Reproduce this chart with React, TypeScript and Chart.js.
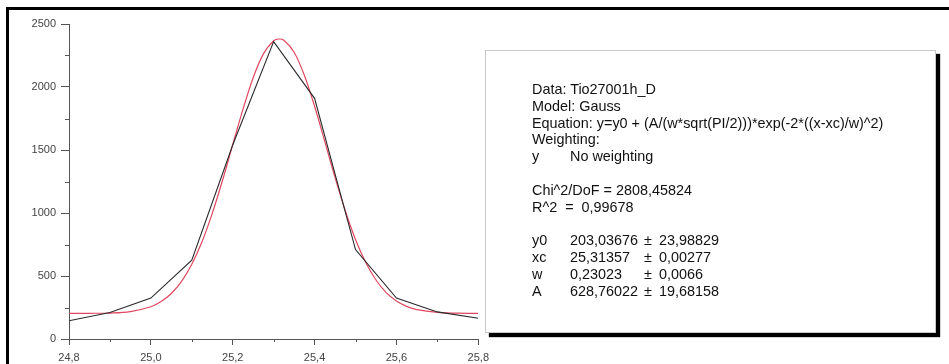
import { useEffect, useRef } from "react";
import { Chart, registerables } from "chart.js";

Chart.register(...registerables);

// Measured data (black line)
const dataX = [24.8, 24.9, 25.0, 25.1, 25.2, 25.3, 25.4, 25.5, 25.6, 25.7, 25.8];
const dataY = [145, 210, 325, 625, 1540, 2360, 1910, 710, 325, 215, 165];

// Fitted Gauss curve (red line)
const fitX = [24.8, 24.85, 24.9, 24.95, 25.0, 25.025, 25.05, 25.075, 25.1, 25.125, 25.15, 25.175, 25.2, 25.225, 25.25, 25.275, 25.3, 25.3125, 25.325, 25.35, 25.375, 25.4, 25.425, 25.45, 25.475, 25.5, 25.525, 25.55, 25.575, 25.6, 25.625, 25.65, 25.7, 25.75, 25.8];
const fitY = [203, 204, 206, 218, 256, 297, 361, 457, 593, 772, 997, 1258, 1542, 1823, 2074, 2263, 2367, 2381, 2371, 2276, 2093, 1847, 1567, 1283, 1018, 790, 607, 468, 368, 302, 259, 233, 211, 205, 203];

// Axis ticks
const xMin = 24.8;
const xMax = 25.8;
const xStep = 0.2;
const yMin = 0;
const yMax = 2500;
const yStep = 500;

// Fit report text
const reportHead = ["Data: Tio27001h_D", "Model: Gauss", "Equation: y=y0 + (A/(w*sqrt(PI/2)))*exp(-2*((x-xc)/w)^2)", "Weighting:"];
const weightRow = ["y", "No weighting"];
const statLines = ["Chi^2/DoF = 2808,45824", "R^2  =  0,99678"];
const paramNames = ["y0", "xc", "w", "A"];
const paramValues = ["203,03676", "25,31357", "0,23023", "628,76022"];
const paramErrors = ["23,98829", "0,00277", "0,0066", "19,68158"];

const minorTicks = {
  id: "minorTicks",
  afterDraw(chart: any) {
    const { ctx, scales } = chart;
    const x = scales.x;
    const y = scales.y;
    ctx.save();
    ctx.strokeStyle = "#555";
    ctx.lineWidth = 1;
    ctx.beginPath();
    for (let v = yMin + yStep / 2; v < yMax; v += yStep) {
      const py = Math.round(y.getPixelForValue(v)) + 0.5;
      ctx.moveTo(x.left - 4, py);
      ctx.lineTo(x.left, py);
    }
    for (let v = xMin + xStep / 2; v < xMax; v += xStep) {
      const px = Math.round(x.getPixelForValue(v)) + 0.5;
      ctx.moveTo(px, y.bottom);
      ctx.lineTo(px, y.bottom + 3);
    }
    ctx.stroke();
    ctx.restore();
  },
};

export default function App() {
  const ref = useRef<HTMLCanvasElement>(null);

  useEffect(() => {
    const chart = new Chart(ref.current!, {
      type: "line",
      data: {
        datasets: [
          {
            label: "data",
            data: dataX.map((x, i) => ({ x, y: dataY[i] })),
            borderColor: "#2a2a2a",
            borderWidth: 1.1,
            pointRadius: 0,
            tension: 0,
          },
          {
            label: "fit",
            data: fitX.map((x, i) => ({ x, y: fitY[i] })),
            borderColor: "rgb(224,72,96)",
            borderWidth: 1.2,
            pointRadius: 0,
            tension: 0.35,
          },
        ],
      },
      options: {
        responsive: false,
        animation: false,
        layout: { padding: { left: 0, top: 24, right: 16, bottom: 0 } },
        plugins: { legend: { display: false }, tooltip: { enabled: false } },
        scales: {
          x: {
            type: "linear",
            min: xMin,
            max: xMax,
            grid: { display: true, drawOnChartArea: false, drawTicks: true, tickLength: 6, color: "#555" },
            border: { display: true, color: "#555", width: 1 },
            ticks: {
              stepSize: xStep,
              padding: 6,
              color: "#444",
              font: { family: "'Liberation Sans', Arial, sans-serif", size: 11 },
              maxRotation: 0,
              callback: (v: any) => Number(v).toFixed(1).replace(".", ","),
            },
            afterFit: (s: any) => {
              s.height = 25;
            },
          },
          y: {
            type: "linear",
            min: yMin,
            max: yMax,
            grid: { display: true, drawOnChartArea: false, drawTicks: true, tickLength: 8, color: "#555" },
            border: { display: true, color: "#555", width: 1 },
            ticks: {
              stepSize: yStep,
              padding: 5,
              color: "#444",
              font: { family: "'Liberation Sans', Arial, sans-serif", size: 11 },
              callback: (v: any) => String(Math.round(Number(v))),
            },
            afterFit: (s: any) => {
              s.width = 69;
            },
          },
        },
      },
      plugins: [minorTicks],
    });
    return () => chart.destroy();
  }, []);

  const font = "'Liberation Sans', Arial, sans-serif";
  const lh = 16.8;

  return (
    <div
      style={{
        position: "fixed",
        left: 0,
        top: 0,
        width: 949,
        height: 364,
        background: "#fff",
        overflow: "hidden",
        fontFamily: font,
      }}
    >
      <div
        style={{
          position: "absolute",
          left: 6,
          top: 7,
          right: -20,
          bottom: -20,
          borderTop: "3px solid #000",
          borderLeft: "3px solid #000",
        }}
      />
      <canvas ref={ref} width={495} height={364} style={{ position: "absolute", left: 0, top: 0 }} />
      <div
        style={{
          position: "absolute",
          left: 485,
          top: 50,
          width: 451,
          height: 283,
          boxSizing: "border-box",
          border: "1px solid #c8c8c8",
          background: "#fff",
          boxShadow: "4px 4px 1px #000",
        }}
      >
        <div
          style={{
            position: "absolute",
            left: 46,
            top: 30,
            fontSize: 14.4,
            lineHeight: lh + "px",
            color: "#111",
            whiteSpace: "pre",
          }}
        >
          {reportHead.map((t) => (
            <div key={t}>{t}</div>
          ))}
          <div style={{ display: "flex" }}>
            <span style={{ width: 38 }}>{weightRow[0]}</span>
            <span>{weightRow[1]}</span>
          </div>
          <div>{"\u00a0"}</div>
          {statLines.map((t) => (
            <div key={t}>{t}</div>
          ))}
          <div>{"\u00a0"}</div>
          {paramNames.map((n, i) => (
            <div key={n} style={{ display: "flex" }}>
              <span style={{ width: 38 }}>{n}</span>
              <span style={{ width: 74 }}>{paramValues[i]}</span>
              <span style={{ width: 15 }}>±</span>
              <span>{paramErrors[i]}</span>
            </div>
          ))}
        </div>
      </div>
    </div>
  );
}
